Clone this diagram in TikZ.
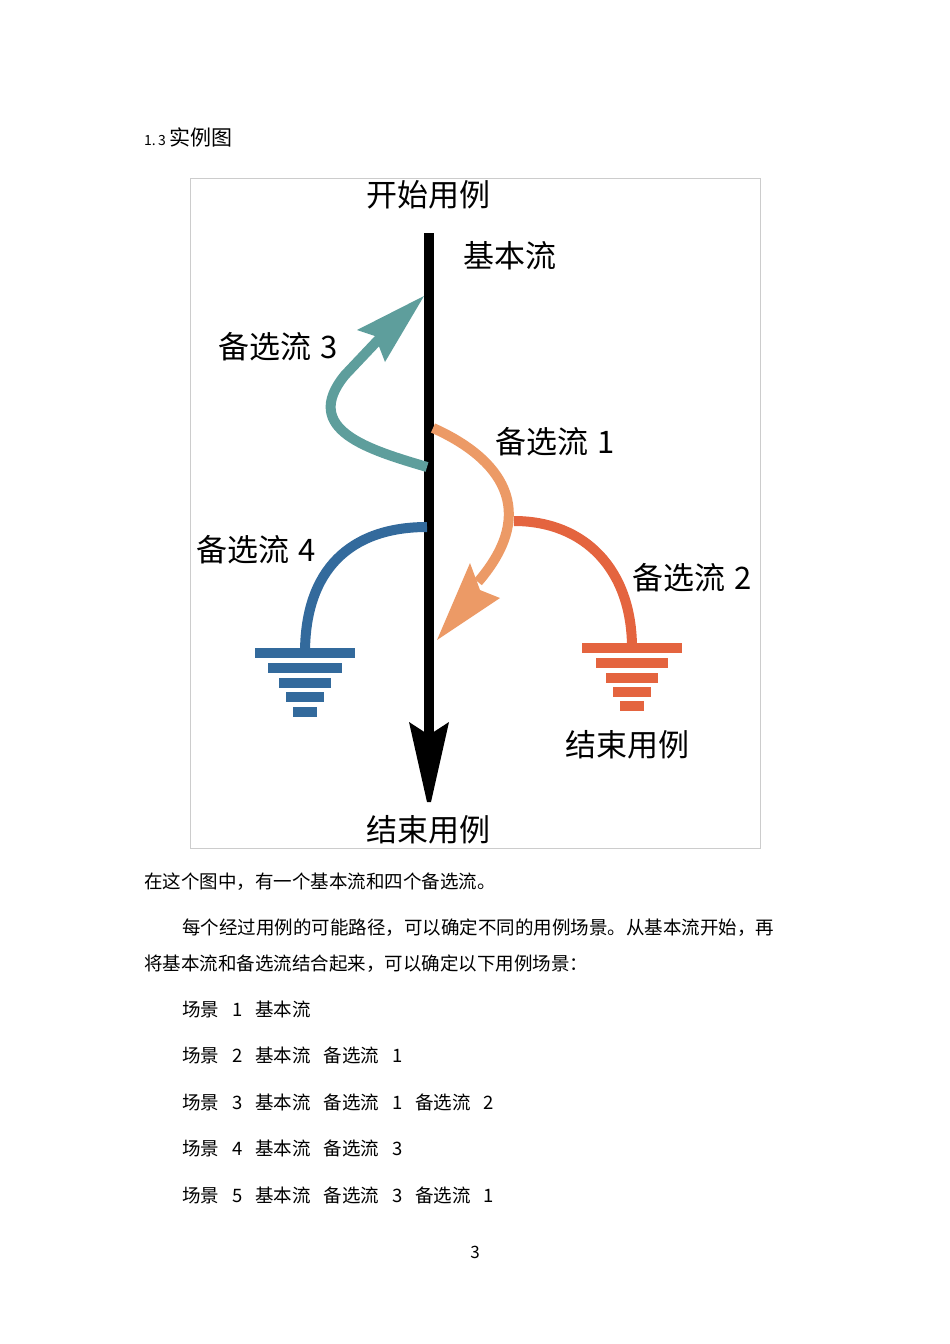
\documentclass[tikz,border=0pt]{standalone}
\usepackage{fontspec}
\setmainfont{Noto Sans CJK SC}
\usetikzlibrary{arrows.meta}
\definecolor{teal3}{HTML}{5E9E9C}
\definecolor{or1}{HTML}{EC9A66}
\definecolor{red2}{HTML}{E4643F}
\definecolor{blue4}{HTML}{336A9C}
\newcommand{\gapx}{\hspace{0.7em}}
\begin{document}
\begin{tikzpicture}[x=1pt,y=-1pt,
  lbl/.style={anchor=west,inner sep=0pt,font=\fontsize{31}{31}\selectfont},
  body/.style={anchor=west,inner sep=0pt,font=\fontsize{18.5}{18.5}\selectfont},
  flow/.style={line width=10pt}]
\useasboundingbox (0,0) rectangle (950,1344);
\node[anchor=west,inner sep=0pt] (sec) at (144,137) {\fontsize{14}{14}\selectfont 1.\,3\ \fontsize{21}{21}\selectfont 实例图};
\draw[gray!40,line width=0.8pt] (190,178) rectangle (760,848);
% main flow
\draw[line width=10pt] (429,233) -- (429,740);
\fill (409,722) -- (429,735) -- (449,722) -- (431,802) -- (427,802) -- cycle;
\node[lbl,anchor=center] (start) at (428,195) {开始用例};
\node[lbl,anchor=center] (end) at (428,830) {结束用例};
\node[lbl] (basic) at (463,256) {基本流};
% alt 3
\draw[teal3,flow] (427,467) .. controls (370,450) and (300,430) .. (345,375) -- (380,338);
\fill[teal3] (424,296) -- (357,330) -- (375,336) -- (385,362) -- cycle;
\node[lbl] (a3) at (218,347) {备选流\hspace{0.3em}3};
% alt 1
\draw[or1,flow] (433,428) .. controls (500,458) and (540,510) .. (478,582);
\fill[or1] (437,640) -- (500,598) -- (480,590) -- (470,563) -- cycle;
\node[lbl] (a1) at (495,442) {备选流\hspace{0.3em}1};
% alt 2
\draw[red2,flow] (514,521) .. controls (585,521) and (632,570) .. (632,648);
\node[lbl] (a2) at (632,578) {备选流\hspace{0.3em}2};
\foreach \y/\w in {648/50,663/36,678/26,692/19,706/12}
  \fill[red2] (632-\w,\y-5) rectangle (632+\w,\y+5);
\node[lbl] (ce) at (565,745) {结束用例};
% alt 4
\draw[blue4,flow] (427,527) .. controls (350,527) and (305,570) .. (305,653);
\node[lbl] (a4) at (196,550) {备选流\hspace{0.3em}4};
\foreach \y/\w in {653/50,668/37,683/26,697/19,712/12}
  \fill[blue4] (305-\w,\y-5) rectangle (305+\w,\y+5);
% text
\node[body] (t1) at (144,882) {在这个图中，有一个基本流和四个备选流。};
\node[body] (t2) at (182,928) {每个经过用例的可能路径，可以确定不同的用例场景。从基本流开始，再};
\node[body] (t3) at (144,964) {将基本流和备选流结合起来，可以确定以下用例场景：};
\node[body] (s1) at (182,1009) {场景\gapx 1\gapx 基本流};
\node[body] (s2) at (182,1055) {场景\gapx 2\gapx 基本流\gapx 备选流\gapx 1};
\node[body] (s3) at (182,1102) {场景\gapx 3\gapx 基本流\gapx 备选流\gapx 1\gapx 备选流\gapx 2};
\node[body] (s4) at (182,1148) {场景\gapx 4\gapx 基本流\gapx 备选流\gapx 3};
\node[body] (s5) at (182,1195) {场景\gapx 5\gapx 基本流\gapx 备选流\gapx 3\gapx 备选流\gapx 1};
\node[inner sep=0pt,font=\fontsize{17}{17}\selectfont\rmfamily] (pg) at (475,1252) {3};
\end{tikzpicture}
\end{document}
